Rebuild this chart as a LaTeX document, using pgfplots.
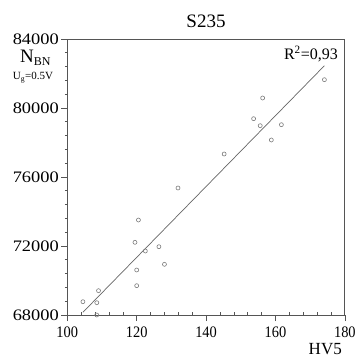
\documentclass[border=0pt]{standalone}
\usepackage{fontspec}
\setmainfont{Liberation Serif}
\usepackage{graphicx}
\usepackage{pgfplots}
\pgfplotsset{compat=1.18}
\definecolor{axgray}{HTML}{555555}
\definecolor{ptgray}{HTML}{7A7A7A}
\definecolor{lngray}{HTML}{666666}
\begin{document}
\begin{tikzpicture}[x=1pt,y=1pt]
\begin{axis}[
  at={(0,0)}, anchor=south west,
  scale only axis,
  width=277.6pt, height=276pt,
  xmin=100, xmax=180, ymin=68000, ymax=84000,
  xtick={100,120,...,180},
  ytick={68000,72000,...,84000},
  scaled ticks=false,
  minor x tick num=4,
  minor y tick num=4,
  xtick pos=left, ytick pos=left,
  tick align=outside,
  major tick length=6pt,
  minor tick length=2.5pt,
  minor x tick style={yshift=2.5pt},
  axis line style={axgray, line width=0.8pt},
  every tick/.style={axgray, line width=0.6pt},
  /pgf/number format/assume math mode=true,
  /pgf/number format/set thousands separator={},
  xticklabel={\scalebox{0.9}[1]{\pgfmathprintnumber{\tick}}},
  yticklabel={\scalebox{1.15}[1]{\pgfmathprintnumber{\tick}}},
  xticklabel style={font=\fontsize{16}{18}\selectfont, yshift=-2pt},
  yticklabel style={font=\fontsize{16}{18}\selectfont, xshift=1pt},
  clip=false,
]
\addplot[only marks, mark=o, mark size=2pt, mark options={ptgray, line width=0.6pt}] coordinates {
(104.5,68771) (108.5,68713) (108.5,68000) (109.0,69409)
(120.0,69699) (120.0,70609) (119.5,72214) (120.5,73507)
(122.5,71710) (126.4,71959) (128.0,70939) (131.9,75362)
(145.2,77333) (153.7,79380) (156.3,80580) (155.6,78974)
(161.7,79032) (158.8,78145) (174.1,81641)
};
\addplot[lngray, line width=0.7pt] coordinates {(104.5,68157) (174.1,82452)};
\end{axis}
\node[anchor=base, font=\fontsize{19}{22}\selectfont] at (138.7,287) {S235};
\node[anchor=base west, font=\fontsize{19}{22}\selectfont, inner sep=0pt] at (-47.3,252) {N\textsubscript{\fontsize{12}{14}\selectfont BN}};
\node[anchor=base west, font=\fontsize{11}{13}\selectfont, inner sep=0pt] at (-54.6,235) {U\textsubscript{g}=0.5V};
\node[anchor=base east, font=\fontsize{16}{18}\selectfont, inner sep=0pt] at (270.7,255) {R\textsuperscript{2}=0,93};
\node[anchor=base east, font=\fontsize{17}{20}\selectfont, inner sep=0pt] at (274.7,-39.5) {HV5};
\pgfresetboundingbox
\useasboundingbox (-67.3,-44) rectangle (290.7,315);
\end{tikzpicture}
\end{document}
